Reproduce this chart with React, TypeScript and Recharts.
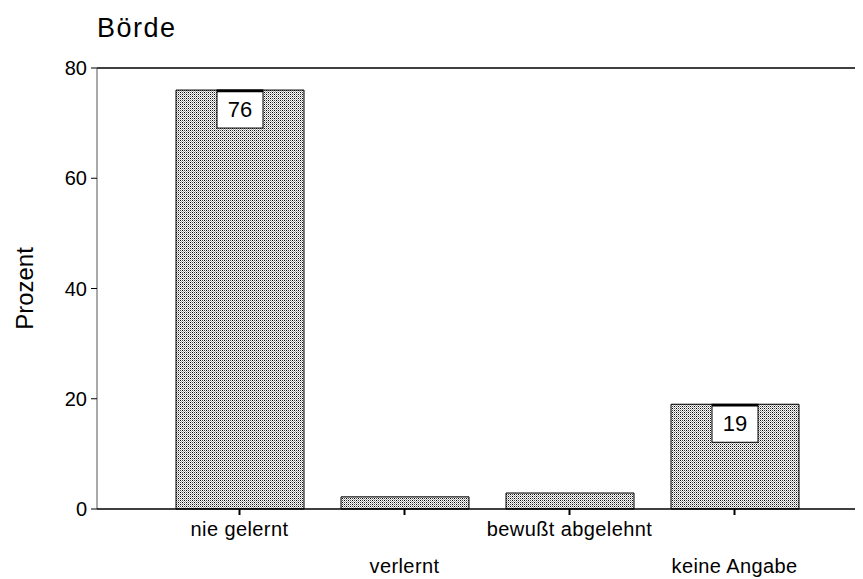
import React from 'react';
import { BarChart, Bar, XAxis, YAxis, ReferenceLine, LabelList } from 'recharts';

const categories = ['nie gelernt', 'verlernt', 'bewußt abgelehnt', 'keine Angabe'];
const values = [76, 2.2, 2.9, 19];
const shownLabels: (string | null)[] = ['76', null, null, '19'];
const yTicks = [0, 20, 40, 60, 80];

const data = categories.map((c, i) => ({ name: c, value: values[i], label: shownLabels[i] }));

const FONT = '"Liberation Sans", Arial, sans-serif';

const XTick = (props: any) => {
  const { x, y, payload, index } = props;
  const dy = index % 2 === 0 ? 19 : 56;
  return (
    <text x={x} y={y} dy={dy} textAnchor="middle" fontFamily={FONT} fontSize={20} fill="#000" letterSpacing={0.4}>
      {payload.value}
    </text>
  );
};

const BoxLabel = (props: any) => {
  const { x, y, width, index } = props;
  const lbl = shownLabels[index];
  if (!lbl) return null;
  const w = 46;
  const h = 38;
  const cx = x + width / 2;
  return (
    <g>
      <rect x={cx - w / 2} y={y} width={w} height={h} fill="#fff" stroke="#000" strokeWidth={1} />
      <line x1={cx - w / 2} x2={cx + w / 2} y1={y + 1} y2={y + 1} stroke="#000" strokeWidth={2.5} />
      <text x={cx} y={y + h / 2 + 8} textAnchor="middle" fontFamily={FONT} fontSize={22} fill="#000">
        {lbl}
      </text>
    </g>
  );
};

const YLabel = (props: any) => {
  const { viewBox } = props;
  const cx = 24;
  const cy = viewBox.y + viewBox.height / 2;
  return (
    <text x={cx} y={cy} transform={`rotate(-90 ${cx} ${cy})`} textAnchor="middle" dominantBaseline="central" fontFamily={FONT} fontSize={24} fill="#000">
      Prozent
    </text>
  );
};

export default function App() {
  return (
    <div style={{ position: 'absolute', left: 0, top: 0, width: 863, height: 579, background: '#fff' }}>
      <div style={{ position: 'absolute', left: 97, top: 12, fontFamily: FONT, fontSize: 27, color: '#000', lineHeight: '32px', letterSpacing: 1.5 }}>Börde</div>
      <BarChart width={863} height={579} data={data} margin={{ top: 68, right: 8, bottom: 0, left: 10 }}>
        <defs>
          <pattern id="dots" x="0" y="0" width="4" height="4" patternUnits="userSpaceOnUse">
            <rect width="4" height="4" fill="#fff" />
            <rect x="0" y="0" width="1" height="1" fill="#000" />
            <rect x="2" y="2" width="1" height="1" fill="#000" />
            <rect x="2" y="0" width="1" height="1" fill="#444" />
            <rect x="0" y="2" width="1" height="1" fill="#444" />
            <rect x="1" y="1" width="1" height="1" fill="#aaa" />
            <rect x="3" y="3" width="1" height="1" fill="#aaa" />
            <rect x="1" y="3" width="1" height="1" fill="#aaa" />
            <rect x="3" y="1" width="1" height="1" fill="#aaa" />
          </pattern>
        </defs>
        <YAxis
          width={87}
          domain={[0, 80]}
          ticks={yTicks}
          interval={0}
          stroke="#555"
          tickSize={6}
          tick={{ fontFamily: FONT, fontSize: 20, fill: '#000', dx: -2 }}
          tickLine={{ stroke: '#000' }}
          label={<YLabel />}
        />
        <XAxis
          dataKey="name"
          interval={0}
          padding={{ left: 60, right: 38 }}
          axisLine={{ stroke: '#000', strokeWidth: 1.5 }}
          tickLine={{ stroke: '#000', strokeWidth: 2 }}
          tickSize={6}
          height={70}
          tick={<XTick />}
        />
        <ReferenceLine y={80} stroke="#000" strokeWidth={1.5} />
        <Bar dataKey="value" barSize={128} fill="url(#dots)" stroke="#000" strokeWidth={1} isAnimationActive={false}>
          <LabelList dataKey="label" content={<BoxLabel />} />
        </Bar>
      </BarChart>
    </div>
  );
}
